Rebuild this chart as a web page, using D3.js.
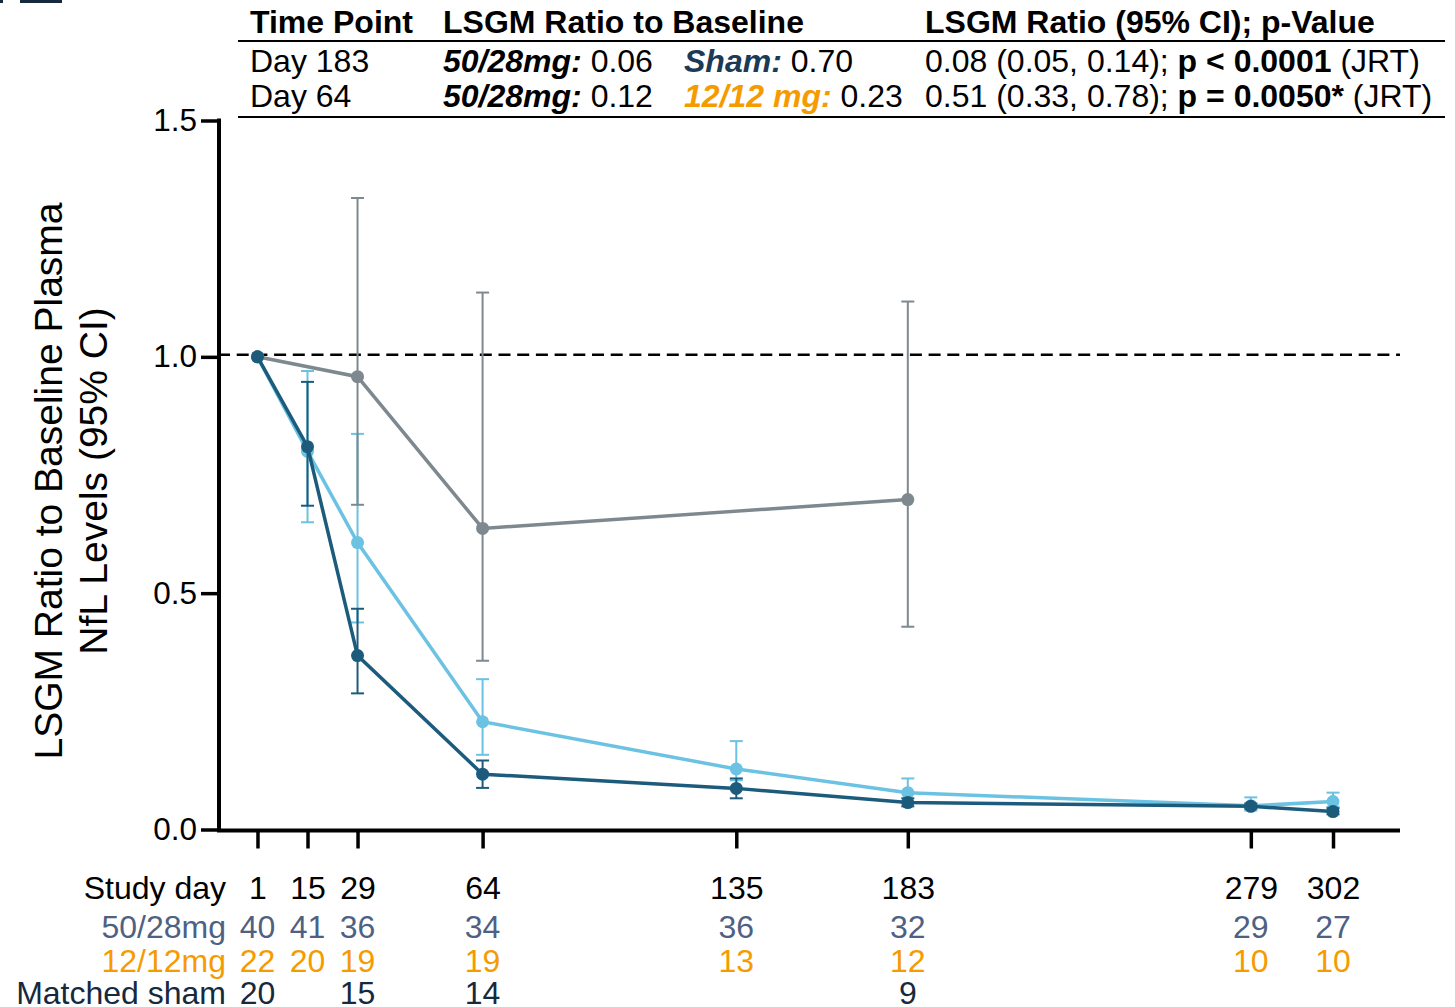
<!DOCTYPE html>
<html>
  <head>
    <meta charset="utf-8">
    <title>LSGM ratio to baseline plasma NfL</title>
    <script src="https://d3js.org/d3.v7.min.js"></script>
    <style>
      body { margin: 0; background: #fff; }
      svg { display: block; font-family: "Liberation Sans", Arial, sans-serif; }
      .axis .domain { stroke: #000; stroke-width: 4px; }
      .axis .tick line { stroke: #000; stroke-width: 3.5px; }
      .axis text { fill: #000; font-family: "Liberation Sans", Arial, sans-serif; }
    </style>
  </head>
  <body>
    <svg id="chart" width="1455" height="1007"></svg>
    <script>
      // data
      days = [1, 15, 29, 64, 135, 183, 279, 302];
      high = [1.0, 0.81, 0.368, 0.117, 0.087, 0.057, 0.049, 0.038];
      highLower = [null, 0.685, 0.288, 0.088, 0.066, 0.049, 0.044, 0.032];
      highUpper = [null, 0.947, 0.467, 0.146, 0.108, 0.066, 0.055, 0.045];
      low = [1.0, 0.80, 0.607, 0.228, 0.128, 0.078, 0.05, 0.059];
      lowLower = [null, 0.65, 0.438, 0.158, 0.104, 0.058, 0.04, 0.048];
      lowUpper = [null, 0.97, 0.837, 0.318, 0.187, 0.108, 0.068, 0.078];
      shamDays = [1, 29, 64, 183];
      sham = [1.0, 0.958, 0.637, 0.698];
      shamLower = [null, 0.687, 0.357, 0.429];
      shamUpper = [null, 1.336, 1.136, 1.117];
      yTicks = [0, 0.5, 1.0, 1.5];
      nHigh = [40, 41, 36, 34, 36, 32, 29, 27];
      nLow = [22, 20, 19, 19, 13, 12, 10, 10];
      nSham = [20, null, 15, 14, null, 9, null, null];
      rowLabels = ["Study day", "50/28mg", "12/12mg", "Matched sham"];
      tableHeader = ["Time Point", "LSGM Ratio to Baseline", "LSGM Ratio (95% CI); p-Value"];
      tableRows = [
        { time: "Day 183", a: "50/28mg:", aVal: " 0.06", b: "Sham:", bVal: " 0.70", ratio: "0.08 (0.05, 0.14); ", p: "p < 0.0001", test: " (JRT)" },
        { time: "Day 64", a: "50/28mg:", aVal: " 0.12", b: "12/12 mg:", bVal: " 0.23", ratio: "0.51 (0.33, 0.78); ", p: "p = 0.0050*", test: " (JRT)" }
      ];

      // colours
      colHigh = "#1c5b7c";
      colLow = "#6cc2e2";
      colSham = "#7e888f";
      colHighText = "#4f6183";
      colLowText = "#f59b00";
      colShamText = "#16293d";

      chart = d3.select("#chart");
      margin = { top: 120.5, right: 55, bottom: 178, left: 218 };
      width = 1455;
      height = 1007;

      x = d3.scaleLinear()
        .domain([-10.05, 320.75])
        .range([margin.left, width - margin.right]);
      y = d3.scaleLinear()
        .domain([0, 1.5])
        .range([829.5, margin.top]);

      // little corner marks top left
      chart.append("rect").attr("x", 0).attr("y", 0).attr("width", 3).attr("height", 3).attr("fill", colShamText);
      chart.append("rect").attr("x", 20).attr("y", 0).attr("width", 42).attr("height", 3).attr("fill", colShamText);

      // reference line at 1
      chart.append("line")
        .attr("x1", margin.left)
        .attr("x2", width - margin.right)
        .attr("y1", y(1) - 2)
        .attr("y2", y(1) - 2)
        .attr("stroke", "#000")
        .attr("stroke-width", 2.5)
        .attr("stroke-dasharray", "12,6.7");

      // axes
      yAxis = d3.axisLeft(y)
        .tickValues(yTicks)
        .tickFormat(d3.format(".1f"))
        .tickSizeInner(18)
        .tickSizeOuter(0)
        .tickPadding(4);
      yAxisGroup = chart.append("g")
        .attr("class", "axis")
        .attr("transform", "translate(" + (margin.left + 1) + ",0)")
        .call(yAxis);
      yAxisGroup.selectAll("text").style("font-size", "31.5px");
      yAxisGroup.select(".domain").attr("d", "M0," + (y(1.5) - 2) + "V" + (y(0) + 2));

      xAxis = d3.axisBottom(x)
        .tickValues(days)
        .tickFormat(d3.format("d"))
        .tickSizeInner(18)
        .tickSizeOuter(0)
        .tickPadding(28);
      xAxisGroup = chart.append("g")
        .attr("class", "axis")
        .attr("transform", "translate(0," + (y(0) + 1) + ")")
        .call(xAxis);
      xAxisGroup.selectAll("text").style("font-size", "32px");
      xAxisGroup.select(".domain").attr("d", "M" + (margin.left - 1) + ",0H" + (width - margin.right));

      // series
      series = [
        { name: "low", days: days, mean: low, lower: lowLower, upper: lowUpper, color: colLow },
        { name: "sham", days: shamDays, mean: sham, lower: shamLower, upper: shamUpper, color: colSham },
        { name: "high", days: days, mean: high, lower: highLower, upper: highUpper, color: colHigh }
      ];
      line = d3.line()
        .x(function(d) { return x(d.day); })
        .y(function(d) { return y(d.value); });

      series.forEach(function(s) {
        points = s.days.map(function(day, i) {
          return { day: day, value: s.mean[i], lower: s.lower[i], upper: s.upper[i] };
        });
        g = chart.append("g").attr("class", "series " + s.name);
        bars = g.selectAll(".err")
          .data(points.filter(function(d) { return d.lower !== null; }))
          .enter().append("g")
            .attr("class", "err")
            .attr("stroke", s.color)
            .attr("stroke-width", 2);
        bars.append("line")
          .attr("x1", function(d) { return x(d.day); })
          .attr("x2", function(d) { return x(d.day); })
          .attr("y1", function(d) { return y(d.lower); })
          .attr("y2", function(d) { return y(d.upper); });
        bars.append("line")
          .attr("x1", function(d) { return x(d.day) - 6.5; })
          .attr("x2", function(d) { return x(d.day) + 6.5; })
          .attr("y1", function(d) { return y(d.upper); })
          .attr("y2", function(d) { return y(d.upper); });
        bars.append("line")
          .attr("x1", function(d) { return x(d.day) - 6.5; })
          .attr("x2", function(d) { return x(d.day) + 6.5; })
          .attr("y1", function(d) { return y(d.lower); })
          .attr("y2", function(d) { return y(d.lower); });
        g.append("path")
          .attr("d", line(points))
          .attr("fill", "none")
          .attr("stroke", s.color)
          .attr("stroke-width", 3.5);
        g.selectAll("circle")
          .data(points)
          .enter().append("circle")
            .attr("cx", function(d) { return x(d.day); })
            .attr("cy", function(d) { return y(d.value); })
            .attr("r", 6.5)
            .attr("fill", s.color);
      });

      // y label
      yLabel = chart.append("text")
        .attr("transform", "translate(62,481) rotate(-90)")
        .attr("text-anchor", "middle")
        .style("font-size", "39px")
        .attr("fill", "#000");
      yLabel.append("tspan").attr("x", 0).attr("y", 0).text("LSGM Ratio to Baseline Plasma");
      yLabel.append("tspan").attr("x", 0).attr("y", 45).text("NfL Levels (95% CI)");

      // n at risk rows
      rowY = [899, 938, 972, 1004];
      rowColors = ["#000", colHighText, colLowText, colShamText];
      chart.selectAll(".rowLabel")
        .data(rowLabels)
        .enter().append("text")
          .attr("class", "rowLabel")
          .attr("x", 226)
          .attr("y", function(d, i) { return rowY[i]; })
          .attr("text-anchor", "end")
          .attr("fill", function(d, i) { return rowColors[i]; })
          .style("font-size", "32px")
          .text(function(d) { return d; });
      [nHigh, nLow, nSham].forEach(function(counts, r) {
        chart.selectAll(".n" + r)
          .data(days.map(function(day, i) { return { day: day, n: counts[i] }; }).filter(function(d) { return d.n !== null; }))
          .enter().append("text")
            .attr("class", "n" + r)
            .attr("x", function(d) { return x(d.day); })
            .attr("y", rowY[r + 1])
            .attr("text-anchor", "middle")
            .attr("fill", rowColors[r + 1])
            .style("font-size", "32px")
            .text(function(d) { return d.n; });
      });

      // table on top
      colX = [250, 443, 684, 925];
      table = chart.append("g").style("font-size", "32px").attr("fill", "#000");
      table.selectAll(".head")
        .data(tableHeader)
        .enter().append("text")
          .attr("class", "head")
          .attr("x", function(d, i) { return i < 2 ? colX[i] : colX[3]; })
          .attr("y", 33)
          .style("font-weight", "bold")
          .text(function(d) { return d; });
      [41, 117].forEach(function(ly) {
        table.append("line")
          .attr("x1", 238).attr("x2", 1445)
          .attr("y1", ly).attr("y2", ly)
          .attr("stroke", "#000").attr("stroke-width", 2);
      });
      tableRows.forEach(function(r, i) {
        ty = 72 + i * 35;
        table.append("text").attr("x", colX[0]).attr("y", ty).text(r.time);
        t = table.append("text").attr("x", colX[1]).attr("y", ty);
        t.append("tspan").style("font-weight", "bold").style("font-style", "italic").text(r.a);
        t.append("tspan").text(r.aVal);
        t = table.append("text").attr("x", colX[2]).attr("y", ty);
        t.append("tspan").style("font-weight", "bold").style("font-style", "italic")
          .attr("fill", i == 0 ? "#1b3a55" : colLowText).text(r.b);
        t.append("tspan").text(r.bVal);
        t = table.append("text").attr("x", colX[3]).attr("y", ty);
        t.append("tspan").text(r.ratio);
        t.append("tspan").style("font-weight", "bold").text(r.p);
        t.append("tspan").text(r.test);
      });
    </script>
  </body>
</html>
